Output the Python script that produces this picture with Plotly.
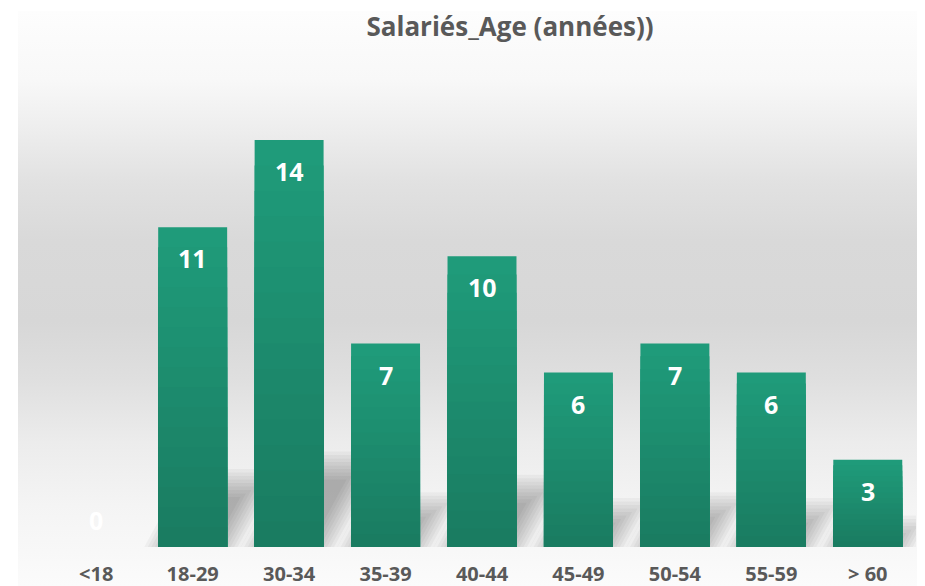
import base64
import plotly.graph_objects as go

categories = ["<18", "18-29", "30-34", "35-39", "40-44", "45-49", "50-54", "55-59", "> 60"]
employees = [0, 11, 14, 7, 10, 6, 7, 6, 3]
title_text = "Salariés_Age (années))"

FONT = "Open Sans"
GREY = "#595959"

# The page body has an 8px margin, so the figure is sized to fill the rest of the window.
W, H = 917, 578
L, R, T, B = 40, 9, 103, 39
pw, ph = W - L - R, H - T - B
Y_MAX = 15
BAR_GAP = 0.285
ux = len(categories) / pw          # data units per pixel (x)
uy = Y_MAX / ph                    # data units per pixel (y)

# background panel gradient (SVG data URI)
svg = """<svg xmlns='http://www.w3.org/2000/svg' width='100' height='100' preserveAspectRatio='none'>
<defs><linearGradient id='g' x1='0' y1='0' x2='0' y2='1'>
<stop offset='0' stop-color='#fdfdfd'/>
<stop offset='0.12' stop-color='#f8f8f8'/>
<stop offset='0.21' stop-color='#ededed'/>
<stop offset='0.30' stop-color='#e1e1e1'/>
<stop offset='0.40' stop-color='#d9d9d9'/>
<stop offset='0.54' stop-color='#d7d7d7'/>
<stop offset='0.64' stop-color='#dfdfdf'/>
<stop offset='0.75' stop-color='#ececec'/>
<stop offset='0.86' stop-color='#f4f4f4'/>
<stop offset='1' stop-color='#fbfbfb'/>
</linearGradient></defs>
<rect width='100' height='100' fill='url(#g)'/></svg>"""
bg_uri = "data:image/svg+xml;base64," + base64.b64encode(svg.encode()).decode()

xpos = list(range(len(categories)))

fig = go.Figure()

# soft perspective shadows behind the bars (decoration derived from the values)
half = (1 - BAR_GAP) / 2
for xi, v in zip(xpos, employees):
    if v <= 0:
        continue
    dy = 0.20 * v
    dx = 0.55 * (dy / uy) * ux   # horizontal skew: 0.55 px per px of height
    for j in range(9):
        e = (j - 4) * 3.5        # px expansion for blur layers
        ex, ey = e * ux, e * uy
        x0 = xi - half - ex
        x1 = xi + half + ex
        top = dy + ey
        skew = dx * (top / dy)
        path = (f"M {x0},0 L {x1},0 L {x1 + skew},{top} "
                f"L {x0 + skew},{top} Z")
        fig.add_shape(type="path", path=path, xref="x", yref="y",
                      fillcolor="rgba(0,0,0,0.034)", line=dict(width=0),
                      layer="below")

# vertical gradient in bars: overlay of progressively shorter, darker bars
top_c = (31, 155, 122)
bot_c = (26, 124, 97)
steps = 16
for i in range(steps):
    f = 1 - i / steps
    t = i / (steps - 1)
    c = tuple(round(top_c[k] + (bot_c[k] - top_c[k]) * t) for k in range(3))
    fig.add_trace(go.Bar(
        x=xpos,
        y=[v * f for v in employees],
        marker=dict(color="rgb(%d,%d,%d)" % c, line=dict(width=0)),
        hoverinfo="skip" if i else "y",
        showlegend=False,
    ))

for xi, v in zip(xpos, employees):
    fig.add_annotation(
        x=xi, y=v, yshift=-31 if v > 0 else 27, text=str(v), showarrow=False,
        font=dict(family=FONT, size=25, color="white", weight="bold"),
    )

px0 = (10 - L) / pw
px1 = (W - L) / pw
py_top = (H - B - 3) / ph
py_bot = (H - B - H) / ph

fig.add_layout_image(dict(
    source=bg_uri, xref="paper", yref="paper",
    x=px0, y=py_top, sizex=px1 - px0, sizey=py_top - py_bot,
    xanchor="left", yanchor="top", sizing="stretch", layer="below",
))

fig.update_layout(
    width=W, height=H,
    margin=dict(l=L, r=R, t=T, b=B, autoexpand=False),
    paper_bgcolor="white",
    plot_bgcolor="rgba(0,0,0,0)",
    barmode="overlay",
    bargap=BAR_GAP,
    title=dict(
        text=title_text, x=502 / W, xanchor="center", y=1 - 19 / H, yanchor="middle",
        font=dict(family=FONT, size=26, color=GREY, weight="bold"),
    ),
    xaxis=dict(
        type="linear", range=[-0.5, len(categories) - 0.5],
        tickmode="array", tickvals=xpos, ticktext=categories,
        showline=False, showgrid=False, zeroline=False, ticks="",
        tickfont=dict(family=FONT, size=20, color=GREY, weight="bold"),
        ticklabelstandoff=13, automargin=False,
    ),
    yaxis=dict(visible=False, range=[0, Y_MAX], showgrid=False, zeroline=False,
               automargin=False),
)

fig.write_html("out.html")
